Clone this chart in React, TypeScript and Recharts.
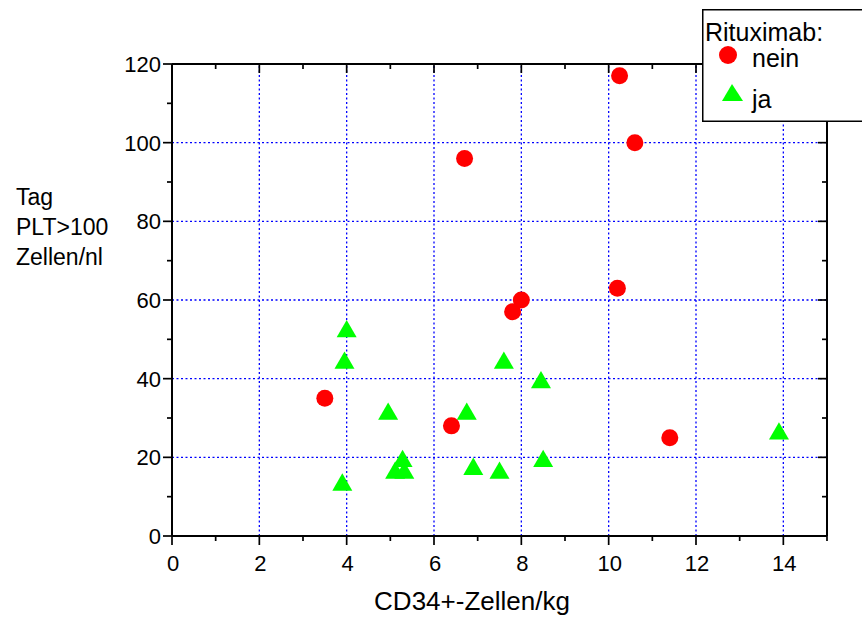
import { ScatterChart, Scatter, XAxis, YAxis, ReferenceLine, Legend } from 'recharts';

const neinX = [3.5, 6.4, 6.7, 7.8, 8.0, 10.2, 11.4, 10.25, 10.6];
const neinY = [35, 28, 96, 57, 60, 63, 25, 117, 100];
const jaX = [4.0, 3.95, 4.95, 3.9, 5.28, 5.11, 5.32, 6.75, 6.9, 7.5, 7.6, 8.45, 8.5, 13.9];
const jaY = [52, 44, 31, 13, 19, 16, 16, 31, 17, 16, 44, 39, 19, 26];

const xTicks = [0, 1, 2, 3, 4, 5, 6, 7, 8, 9, 10, 11, 12, 13, 14, 15];
const yTicks = [0, 10, 20, 30, 40, 50, 60, 70, 80, 90, 100, 110, 120];
const xLabels = [0, 2, 4, 6, 8, 10, 12, 14];
const yLabels = [0, 20, 40, 60, 80, 100, 120];
const gridX = [2, 4, 6, 8, 10, 12, 14];
const gridY = [20, 40, 60, 80, 100];

const nein = neinX.map((x, i) => ({ x, y: neinY[i] }));
const ja = jaX.map((x, i) => ({ x, y: jaY[i] }));

const FONT = '"Liberation Sans", Arial, sans-serif';
const PLOT_W = 655;
const PLOT_H = 472;
const MAJOR = 9;
const MINOR = 5;

function XTick({ x, y, payload }: any) {
  const v = payload.value;
  const major = xLabels.includes(v);
  const len = major ? MAJOR : MINOR;
  return (
    <g>
      <line x1={x} y1={y} x2={x} y2={y + len} stroke="#000" strokeWidth={1.7} />
      <line x1={x} y1={y - PLOT_H} x2={x} y2={y - PLOT_H + len} stroke="#000" strokeWidth={1.7} />
      {major && (
        <text x={x + 1} y={y + 35} textAnchor="middle" fontSize={22} fontFamily={FONT} fill="#000">
          {v}
        </text>
      )}
    </g>
  );
}

function YTick({ x, y, payload }: any) {
  const v = payload.value;
  const major = yLabels.includes(v);
  const len = major ? MAJOR : MINOR;
  return (
    <g>
      <line x1={x - len} y1={y} x2={x} y2={y} stroke="#000" strokeWidth={1.7} />
      <line x1={x + PLOT_W - len} y1={y} x2={x + PLOT_W} y2={y} stroke="#000" strokeWidth={1.7} />
      {major && (
        <text x={x - 11} y={y + 8} textAnchor="end" fontSize={22} fontFamily={FONT} fill="#000">
          {v}
        </text>
      )}
    </g>
  );
}

function Circle({ cx, cy }: any) {
  return <circle cx={cx} cy={cy} r={8.5} fill="#ff0000" />;
}

function Triangle({ cx, cy }: any) {
  const h = 17.3;
  const w = 20;
  return (
    <polygon
      points={`${cx},${cy - (2 * h) / 3} ${cx - w / 2},${cy + h / 3} ${cx + w / 2},${cy + h / 3}`}
      fill="#00ff00"
    />
  );
}

function LegendBox() {
  return (
    <svg width={170} height={114} style={{ display: 'block' }}>
      <rect x={0.75} y={0.75} width={175} height={111.5} fill="#fff" stroke="#000" strokeWidth={1.5} />
      <text x={3} y={32} fontSize={25} fontFamily={FONT}>Rituximab:</text>
      <circle cx={26} cy={46} r={9} fill="#ff0000" />
      <text x={50} y={58} fontSize={25} fontFamily={FONT}>nein</text>
      <polygon points="30,75 20,92 41,92" fill="#00ff00" />
      <text x={50} y={99} fontSize={25} fontFamily={FONT}>ja</text>
    </svg>
  );
}

export default function App() {
  return (
    <div style={{ position: 'absolute', left: 0, top: 0, width: 862, height: 618, overflow: 'hidden', background: '#fff' }}>
      <ScatterChart width={862} height={618} margin={{ top: 64, right: 35, left: 0, bottom: 0 }}>
        <XAxis
          type="number"
          dataKey="x"
          domain={[0, 15]}
          ticks={xTicks}
          interval={0}
          height={82}
          tickSize={0}
          tickMargin={0}
          tickLine={false}
          axisLine={{ stroke: '#000', strokeWidth: 2 }}
          tick={<XTick />}
          label={{
            content: () => (
              <text x={472} y={610} textAnchor="middle" fontSize={26} fontFamily={FONT} fill="#000">
                CD34+-Zellen/kg
              </text>
            ),
          }}
        />
        <YAxis
          type="number"
          dataKey="y"
          domain={[0, 120]}
          ticks={yTicks}
          interval={0}
          width={172}
          tickSize={0}
          tickMargin={0}
          tickLine={false}
          axisLine={{ stroke: '#000', strokeWidth: 2 }}
          tick={<YTick />}
          label={{
            content: () => (
              <text fontSize={23} fontFamily={FONT} fill="#000">
                <tspan x={16} y={205}>Tag</tspan>
                <tspan x={16} y={235}>PLT&gt;100</tspan>
                <tspan x={16} y={265}>Zellen/nl</tspan>
              </text>
            ),
          }}
        />
        {gridX.map((v) => (
          <ReferenceLine key={'gx' + v} x={v} stroke="#0000ff" strokeWidth={1.3} strokeDasharray="2 2.5" />
        ))}
        {gridY.map((v) => (
          <ReferenceLine key={'gy' + v} y={v} stroke="#0000ff" strokeWidth={1.3} strokeDasharray="2 2.5" />
        ))}
        <ReferenceLine y={120} stroke="#000" strokeWidth={2} />
        <ReferenceLine x={15} stroke="#000" strokeWidth={2} />
        <Scatter name="nein" data={nein} shape={<Circle />} isAnimationActive={false} />
        <Scatter name="ja" data={ja} shape={<Triangle />} isAnimationActive={false} />
        <Legend
          layout="vertical"
          align="center"
          verticalAlign="middle"
          wrapperStyle={{ left: 702, top: 9, width: 170, height: 114 }}
          content={() => <LegendBox />}
        />
      </ScatterChart>
    </div>
  );
}
